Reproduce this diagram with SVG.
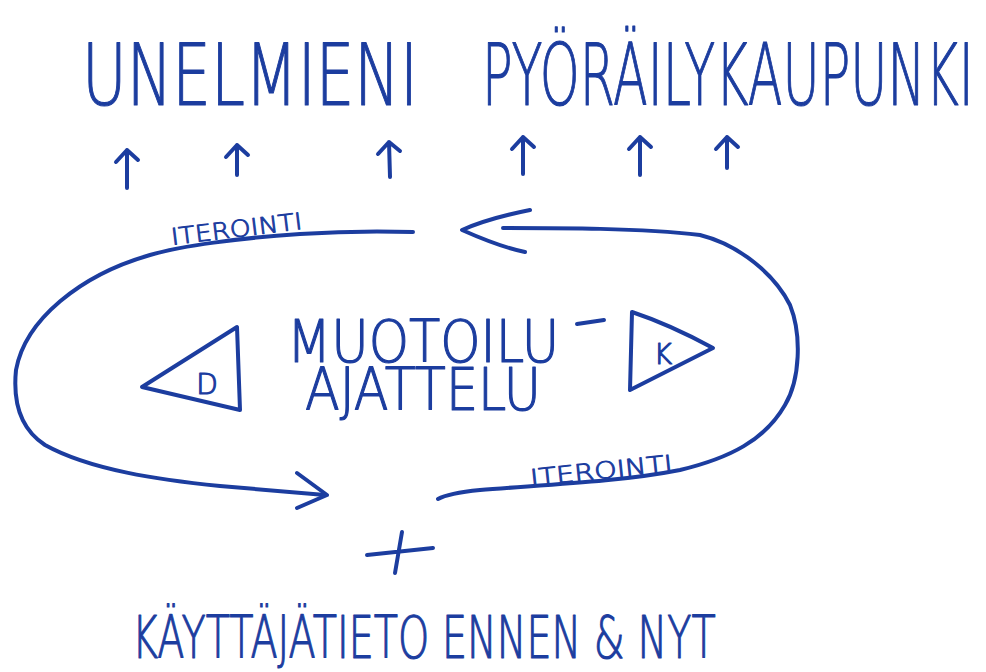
<svg xmlns="http://www.w3.org/2000/svg" width="986" height="672" viewBox="0 0 986 672">
  <style>
    .ink { fill: none; stroke: #1c3d9f; stroke-width: 4; stroke-linecap: round; stroke-linejoin: round; }
    .txt { fill: #1c3d9f; stroke: #1c3d9f; stroke-width: 1.2; stroke-linejoin: round; font-family: "DejaVu Sans", "Liberation Sans", sans-serif; font-weight: 200; }
    .title { font-size: 86px; }
    .mid { font-size: 58px; }
    .small { font-size: 23px; stroke-width: 0.9; }
    .bottom { font-size: 58px; }
  </style>
  <rect width="986" height="672" fill="#ffffff"/>

  <!-- heading, drawn narrow like hand lettering -->
  <g id="title">
    <text class="txt title" transform="translate(82 105) scale(0.66 1)" x="0" y="0" textLength="509" lengthAdjust="spacingAndGlyphs">UNELMIENI</text>
    <text class="txt title" transform="translate(482 105) scale(0.58 1)" x="0" y="0" textLength="848" lengthAdjust="spacingAndGlyphs">PYÖRÄILYKAUPUNKI</text>
  </g>

  <!-- central concept: two-line label -->
  <g id="muotoilu">
    <text class="txt mid" transform="translate(287 362) scale(0.84 1)"><tspan x="0" y="0" textLength="324" lengthAdjust="spacingAndGlyphs">MUOTOILU</tspan><tspan x="21.4" y="48" textLength="281" lengthAdjust="spacingAndGlyphs">AJATTELU</tspan></text>
    <path class="ink" d="M577,324 L604,320"/>
  </g>

  <g id="triangle-d">
    <path class="ink" d="M142,387 L237,327 L240,410 Z"/>
    <text class="txt" x="207" y="394" font-size="28" text-anchor="middle">D</text>
  </g>

  <g id="triangle-k">
    <path class="ink" d="M632,312 C650,318 680,330 713,348 L630,390 Z"/>
    <text class="txt" x="663" y="364" font-size="28" text-anchor="middle">K</text>
  </g>

  <g id="plus">
    <path class="ink" d="M367,555 L433,548 M402,532 L395,573"/>
  </g>

  <g id="user-data">
    <text class="txt bottom" transform="translate(132 658) scale(0.64 1)" x="0" y="0" textLength="912" lengthAdjust="spacingAndGlyphs">KÄYTTÄJÄTIETO ENNEN &amp; NYT</text>
  </g>

  <!-- iteration labels -->
  <g id="label-top">
    <text class="txt small" x="172" y="245" textLength="132" lengthAdjust="spacingAndGlyphs" transform="rotate(-7 172 245)">ITEROINTI</text>
  </g>
  <g id="label-bottom">
    <text class="txt small" x="531" y="486" textLength="143" lengthAdjust="spacingAndGlyphs" transform="rotate(-6 531 486)">ITEROINTI</text>
  </g>

  <!-- connectors -->
  <g id="connectors">
    <!-- left iteration loop -->
    <path class="ink" d="M413,232 C380,231 330,232 300,234 C240,238 180,246 150,255 C80,275 25,320 16,370 C12,410 25,432 45,445 C90,470 160,480 220,486 C265,490 300,493 325,495"/>
    <path class="ink" d="M297,473 L327,495 L297,508"/>
    <!-- right iteration loop -->
    <path class="ink" d="M503,228 C560,228 640,228 700,235 C740,245 775,275 790,305 C802,335 800,380 785,405 C765,440 730,458 680,470 C620,482 540,485 480,490 C460,492 445,495 438,499"/>
    <path class="ink" d="M530,210 C510,214 480,222 462,230 C480,238 505,248 525,252"/>
    <!-- arrows towards the heading -->
    <path class="ink" d="M127,188 L127,150 M116,162 L127,150 L138,160"/>
    <path class="ink" d="M237,175 L237,145 M226,157 L237,145 L248,155"/>
    <path class="ink" d="M390,177 L389,142 M378,154 L389,142 L400,151"/>
    <path class="ink" d="M523,174 L523,137 M512,149 L523,137 L534,147"/>
    <path class="ink" d="M640,175 L640,137 M629,149 L640,137 L651,147"/>
    <path class="ink" d="M727,168 L727,137 M716,149 L727,137 L738,147"/>
  </g>
</svg>
